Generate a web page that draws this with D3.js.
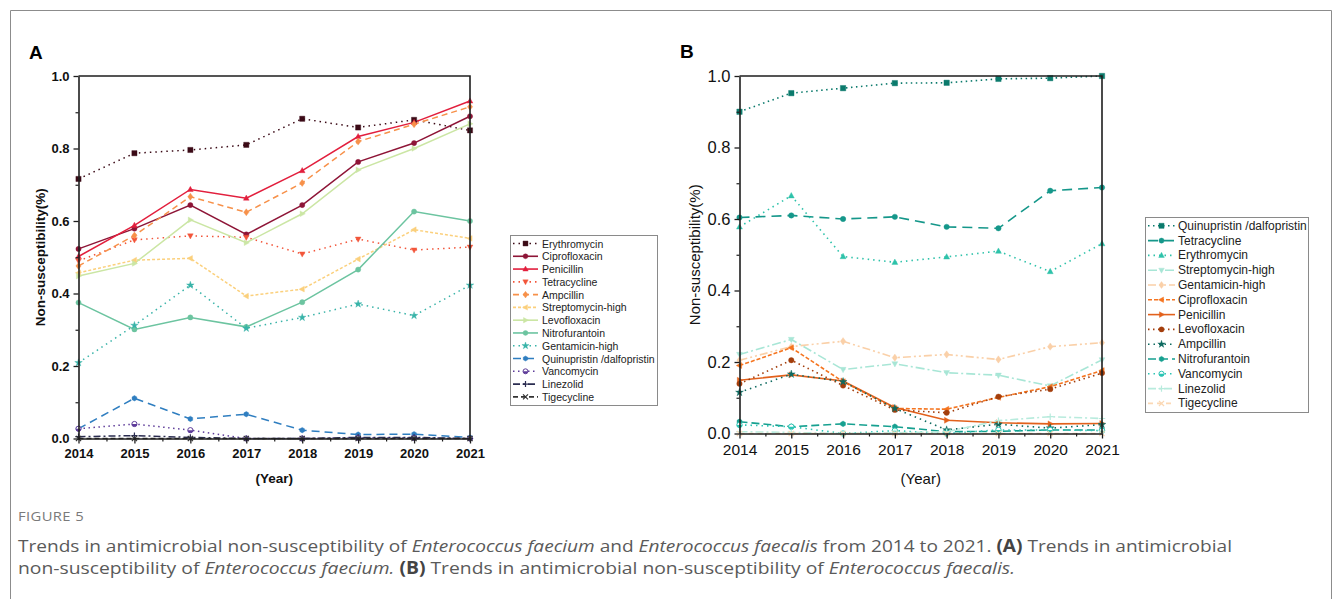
<!DOCTYPE html>
<html>
<head>
<meta charset="utf-8">
<script src="https://cdn.jsdelivr.net/npm/d3@7"></script>
<style>
  html, body { margin: 0; padding: 0; background: #fff; }
  svg { display: block; }
</style>
</head>
<body>
<svg id="fig" width="1336" height="599"></svg>
<script>
// ---- shared axes ----
const years = [2014, 2015, 2016, 2017, 2018, 2019, 2020, 2021];
const yTicks = [0, 0.2, 0.4, 0.6, 0.8, 1.0];
const yTickLabels = ["0.0", "0.2", "0.4", "0.6", "0.8", "1.0"];

// ---- Panel A: Enterococcus faecium ----
const faeciumNames = ["Erythromycin", "Ciprofloxacin", "Penicillin", "Tetracycline", "Ampcillin",
  "Streptomycin-high", "Levofloxacin", "Nitrofurantoin", "Gentamicin-high",
  "Quinupristin /dalfopristin", "Vancomycin", "Linezolid", "Tigecycline"];
const faeciumErythromycin   = [0.716, 0.787, 0.796, 0.810, 0.882, 0.858, 0.879, 0.850];
const faeciumCiprofloxacin  = [0.523, 0.579, 0.644, 0.563, 0.644, 0.763, 0.815, 0.889];
const faeciumPenicillin     = [0.502, 0.588, 0.687, 0.663, 0.739, 0.833, 0.872, 0.931];
const faeciumTetracycline   = [0.490, 0.548, 0.559, 0.555, 0.509, 0.550, 0.520, 0.528];
const faeciumAmpcillin      = [0.476, 0.560, 0.667, 0.624, 0.705, 0.819, 0.867, 0.915];
const faeciumStreptomycin   = [0.457, 0.492, 0.497, 0.393, 0.412, 0.495, 0.576, 0.552];
const faeciumLevofloxacin   = [0.448, 0.483, 0.603, 0.540, 0.620, 0.741, 0.800, 0.868];
const faeciumNitrofurantoin = [0.375, 0.301, 0.334, 0.308, 0.376, 0.466, 0.626, 0.600];
const faeciumGentamicin     = [0.209, 0.312, 0.423, 0.304, 0.334, 0.371, 0.339, 0.423];
const faeciumQuinupristin   = [0.027, 0.111, 0.054, 0.067, 0.023, 0.011, 0.012, 0.003];
const faeciumVancomycin     = [0.027, 0.040, 0.023, 0.000, 0.000, 0.002, 0.002, 0.000];
const faeciumLinezolid      = [0.005, 0.008, 0.003, 0.000, 0.000, 0.003, 0.003, 0.000];
const faeciumTigecycline    = [0.000, 0.000, 0.000, 0.000, 0.000, 0.000, 0.000, 0.000];

// ---- Panel B: Enterococcus faecalis ----
const faecalisNames = ["Quinupristin /dalfopristin", "Tetracycline", "Erythromycin", "Streptomycin-high",
  "Gentamicin-high", "Ciprofloxacin", "Penicillin", "Levofloxacin", "Ampcillin",
  "Nitrofurantoin", "Vancomycin", "Linezolid", "Tigecycline"];
const faecalisQuinupristin   = [0.900, 0.952, 0.966, 0.980, 0.981, 0.992, 0.994, 1.000];
const faecalisTetracycline   = [0.604, 0.610, 0.600, 0.606, 0.578, 0.574, 0.679, 0.688];
const faecalisErythromycin   = [0.578, 0.665, 0.495, 0.479, 0.494, 0.510, 0.453, 0.531];
const faecalisStreptomycin   = [0.221, 0.263, 0.179, 0.195, 0.170, 0.163, 0.133, 0.206];
const faecalisGentamicin     = [0.205, 0.243, 0.258, 0.212, 0.221, 0.207, 0.243, 0.254];
const faecalisCiprofloxacin  = [0.190, 0.240, 0.145, 0.070, 0.068, 0.101, 0.131, 0.176];
const faecalisPenicillin     = [0.149, 0.164, 0.147, 0.073, 0.037, 0.030, 0.027, 0.028];
const faecalisLevofloxacin   = [0.139, 0.205, 0.134, 0.066, 0.058, 0.103, 0.124, 0.169];
const faecalisAmpcillin      = [0.115, 0.166, 0.145, 0.070, 0.010, 0.026, 0.015, 0.025];
const faecalisNitrofurantoin = [0.033, 0.019, 0.027, 0.019, 0.005, 0.006, 0.010, 0.010];
const faecalisVancomycin     = [0.024, 0.019, 0.000, 0.008, 0.000, 0.010, 0.010, 0.008];
const faecalisLinezolid      = [0.005, 0.003, 0.000, 0.002, 0.005, 0.036, 0.047, 0.042];
const faecalisTigecycline    = [0.000, 0.000, 0.000, 0.000, 0.000, 0.000, 0.000, 0.000];

const faeciumValues = [faeciumErythromycin, faeciumCiprofloxacin, faeciumPenicillin, faeciumTetracycline,
  faeciumAmpcillin, faeciumStreptomycin, faeciumLevofloxacin, faeciumNitrofurantoin, faeciumGentamicin,
  faeciumQuinupristin, faeciumVancomycin, faeciumLinezolid, faeciumTigecycline];
const faecalisValues = [faecalisQuinupristin, faecalisTetracycline, faecalisErythromycin, faecalisStreptomycin,
  faecalisGentamicin, faecalisCiprofloxacin, faecalisPenicillin, faecalisLevofloxacin, faecalisAmpcillin,
  faecalisNitrofurantoin, faecalisVancomycin, faecalisLinezolid, faecalisTigecycline];

// line/marker styling, one entry per series
const faeciumStyles = [
  { color: "#3b0a16", dash: "1.5,4",    shape: "square" },
  { color: "#8e1537", dash: null,       shape: "circle" },
  { color: "#e21f3d", dash: null,       shape: "triUp" },
  { color: "#f2553a", dash: "1.5,4",    shape: "triDown" },
  { color: "#f7914a", dash: "6,4",      shape: "diamond" },
  { color: "#fbd07c", dash: "3,2",      shape: "triLeft" },
  { color: "#cbe6a4", dash: null,       shape: "triRight" },
  { color: "#6cc4a0", dash: null,       shape: "circle" },
  { color: "#38b3a8", dash: "1.5,4",    shape: "star" },
  { color: "#2f7ec0", dash: "8,5",      shape: "pentagon" },
  { color: "#5e3c99", dash: "1.5,3.5",  shape: "half" },
  { color: "#2a2c50", dash: "7,3,2,3",  shape: "plus" },
  { color: "#333333", dash: "5,3",      shape: "cross" }
];
const faecalisStyles = [
  { color: "#0b7a6c", dash: "1.5,3.5",  shape: "square" },
  { color: "#15978a", dash: "10,6",     shape: "circle" },
  { color: "#2ec2aa", dash: "1.5,4",    shape: "triUp" },
  { color: "#a8e6d6", dash: "9,3,2,3",  shape: "triDown" },
  { color: "#fad0a8", dash: "8,3,2,3,2,3", shape: "diamond" },
  { color: "#f57520", dash: "4,2",      shape: "triLeft" },
  { color: "#e2611c", dash: null,       shape: "triRight" },
  { color: "#a33e0c", dash: "1.5,3.5",  shape: "circle" },
  { color: "#0e6a60", dash: "1.5,4",    shape: "star" },
  { color: "#16a090", dash: "8,4",      shape: "pentagon" },
  { color: "#2cc4b4", dash: "1.5,4",    shape: "half" },
  { color: "#b8ebdd", dash: "8,3,2,3",  shape: "plus" },
  { color: "#fbd8b4", dash: "5,4",      shape: "cross" }
];

// ---- marker shapes ----
function markerPath(shape, r) {
  switch (shape) {
    case "square": return `M${-r},${-r}h${2 * r}v${2 * r}h${-2 * r}Z`;
    case "circle": case "half": return d3.symbol(d3.symbolCircle, Math.PI * r * r)();
    case "triUp": return `M0,${-1.2 * r}L${1.1 * r},${0.8 * r}L${-1.1 * r},${0.8 * r}Z`;
    case "triDown": return `M0,${1.2 * r}L${1.1 * r},${-0.8 * r}L${-1.1 * r},${-0.8 * r}Z`;
    case "triLeft": return `M${-1.2 * r},0L${0.8 * r},${-1.1 * r}L${0.8 * r},${1.1 * r}Z`;
    case "triRight": return `M${1.2 * r},0L${-0.8 * r},${-1.1 * r}L${-0.8 * r},${1.1 * r}Z`;
    case "diamond": return `M0,${-1.35 * r}L${r},0L0,${1.35 * r}L${-r},0Z`;
    case "star": return d3.symbol(d3.symbolStar, 2.6 * r * r)();
    case "pentagon": {
      const pts = d3.range(6).map(i => {
        const a = -Math.PI / 2 + i * Math.PI / 3;
        return [r * 1.05 * Math.cos(a), r * 1.05 * Math.sin(a)];
      });
      return "M" + pts.map(p => p.join(",")).join("L") + "Z";
    }
    case "plus": return `M${-r * 1.2},0H${r * 1.2}M0,${-r * 1.2}V${r * 1.2}`;
    case "cross": return `M${-r},${-r}L${r},${r}M${-r},${r}L${r},${-r}`;
  }
}

function drawMarker(g, shape, color, x, y, r) {
  const stroked = shape === "plus" || shape === "cross";
  g.append("path")
    .attr("transform", `translate(${x},${y})`)
    .attr("d", markerPath(shape, r))
    .attr("fill", stroked ? "none" : (shape === "half" ? "#ffffff" : color))
    .attr("stroke", color)
    .attr("stroke-width", stroked ? 1.2 : (shape === "half" ? 1 : 0.4));
  if (shape === "half") {
    g.append("path")
      .attr("transform", `translate(${x},${y})`)
      .attr("d", `M${-r},0A${r},${r} 0 0 0 ${r},0Z`)
      .attr("fill", color);
  }
}

const svg = d3.select("#fig");
const font = "'Liberation Sans', Arial, sans-serif";

// outer frame of the figure
svg.append("path")
  .attr("d", "M10.5,610V10.5H1331.5V610")
  .attr("fill", "none").attr("stroke", "#8c8c8c").attr("stroke-width", 1);

function drawPanel(opt) {
  const { names, values, styles, left, right, top, bottom, bold, tickSizeX, tickSizeY,
    labelSize, letter, letterX, letterY, yLabelX, legend } = opt;
  const g = svg.append("g");
  const x = d3.scaleLinear().domain([2014, 2021]).range([left, right]);
  const y = d3.scaleLinear().domain([0, 1]).range([bottom, top]);
  const weight = bold ? "bold" : "normal";

  // series lines and markers
  const line = d3.line().x((d, i) => x(years[i])).y(d => y(d));
  values.forEach((vals, k) => {
    const st = styles[k];
    g.append("path")
      .attr("d", line(vals))
      .attr("fill", "none")
      .attr("stroke", st.color)
      .attr("stroke-width", opt.lineWidth)
      .attr("stroke-dasharray", st.dash);
  });
  values.forEach((vals, k) => {
    const st = styles[k];
    vals.forEach((v, i) => drawMarker(g, st.shape, st.color, x(years[i]), y(v), opt.markerR));
  });

  // axes
  const axisStyle = sel => {
    sel.select(".domain").attr("stroke", "#1e1e1e").attr("stroke-width", 1.6);
    sel.selectAll(".tick line").attr("stroke", "#1e1e1e").attr("stroke-width", 1.3);
    sel.selectAll(".tick text").attr("font-family", font).attr("font-weight", weight).attr("fill", "#111");
  };
  const xAxis = g.append("g").attr("transform", `translate(0,${bottom})`)
    .call(d3.axisBottom(x).tickValues(years).tickFormat(d3.format("d")).tickSize(5).tickSizeOuter(0).tickPadding(5));
  axisStyle(xAxis);
  xAxis.selectAll(".tick text").attr("font-size", tickSizeX);
  const yAxis = g.append("g").attr("transform", `translate(${left},0)`)
    .call(d3.axisLeft(y).tickValues(yTicks).tickFormat((d, i) => yTickLabels[i]).tickSize(5).tickSizeOuter(0).tickPadding(4));
  axisStyle(yAxis);
  yAxis.selectAll(".tick text").attr("font-size", tickSizeY);

  // minor ticks
  g.append("g").attr("transform", `translate(0,${bottom})`)
    .call(d3.axisBottom(x).tickValues(d3.range(2014.5, 2021, 1)).tickFormat("").tickSize(3).tickSizeOuter(0))
    .call(s => { s.select(".domain").remove(); s.selectAll("line").attr("stroke", "#1e1e1e").attr("stroke-width", 1.2); });
  g.append("g").attr("transform", `translate(${left},0)`)
    .call(d3.axisLeft(y).tickValues([0.1, 0.3, 0.5, 0.7, 0.9]).tickFormat("").tickSize(3).tickSizeOuter(0))
    .call(s => { s.select(".domain").remove(); s.selectAll("line").attr("stroke", "#1e1e1e").attr("stroke-width", 1.2); });

  // frame (top and right)
  g.append("path")
    .attr("d", `M${left},${top}H${right}V${bottom}`)
    .attr("fill", "none").attr("stroke", "#1e1e1e").attr("stroke-width", 1.6);

  // axis titles
  g.append("text")
    .attr("transform", `translate(${yLabelX},${(top + bottom) / 2}) rotate(-90)`)
    .attr("text-anchor", "middle").attr("dominant-baseline", "central")
    .attr("font-family", font).attr("font-weight", weight).attr("font-size", labelSize)
    .attr("fill", "#111").text("Non-susceptibility(%)");
  g.append("text")
    .attr("x", (left + right) / 2).attr("y", 478)
    .attr("text-anchor", "middle").attr("dominant-baseline", "central")
    .attr("font-family", font).attr("font-weight", weight).attr("font-size", labelSize)
    .attr("fill", "#111").text("(Year)");

  // panel letter
  g.append("text").attr("x", letterX).attr("y", letterY)
    .attr("font-family", font).attr("font-weight", "bold").attr("font-size", 19)
    .attr("fill", "#000").text(letter);

  // legend
  const L = legend;
  const lg = svg.append("g");
  lg.append("rect")
    .attr("x", L.x + 0.5).attr("y", L.y + 0.5).attr("width", L.w).attr("height", L.h)
    .attr("fill", "#fff").attr("stroke", "#8a8a8a").attr("stroke-width", 1);
  names.forEach((name, k) => {
    const st = styles[k];
    const yy = L.firstY + k * L.step;
    lg.append("line")
      .attr("x1", L.x + 3).attr("x2", L.x + 3 + L.sample).attr("y1", yy).attr("y2", yy)
      .attr("stroke", st.color).attr("stroke-width", 1.6).attr("stroke-dasharray", st.dash);
    drawMarker(lg, st.shape, st.color, L.x + 3 + L.sample / 2, yy, opt.markerR * 0.95);
    lg.append("text")
      .attr("x", L.textX).attr("y", yy).attr("dominant-baseline", "central")
      .attr("font-family", font).attr("font-size", L.font).attr("fill", "#222").text(name);
  });
}

drawPanel({
  names: faeciumNames, values: faeciumValues, styles: faeciumStyles,
  left: 78.5, right: 470, top: 76, bottom: 438.5,
  bold: true, tickSizeX: 13, tickSizeY: 13, labelSize: 13.5,
  letter: "A", letterX: 29, letterY: 59, yLabelX: 40,
  lineWidth: 1.5, markerR: 2.6,
  legend: { x: 510, y: 235, w: 147, h: 170, firstY: 243.5, step: 12.78, sample: 25, textX: 542, font: 10.5 }
});

drawPanel({
  names: faecalisNames, values: faecalisValues, styles: faecalisStyles,
  left: 739.5, right: 1102, top: 76, bottom: 433.5,
  bold: false, tickSizeX: 15.5, tickSizeY: 16.5, labelSize: 15,
  letter: "B", letterX: 680, letterY: 58, yLabelX: 694,
  lineWidth: 1.6, markerR: 2.7,
  legend: { x: 1145, y: 217, w: 163, h: 195, firstY: 225.8, step: 14.8, sample: 27, textX: 1178, font: 12 }
});

// ---- caption ----
const cap = svg.append("g").attr("font-family", "'Open Sans', 'Liberation Sans', sans-serif");
cap.append("text").attr("x", 18).attr("y", 521)
  .attr("font-size", 12).attr("fill", "#7a7a7a").attr("letter-spacing", 0.3)
  .attr("textLength", 66).attr("lengthAdjust", "spacingAndGlyphs").text("FIGURE 5");

function captionLine(yPos, width, parts) {
  const t = cap.append("text").attr("x", 18).attr("y", yPos)
    .attr("font-size", 17).attr("fill", "#5a5a5a")
    .attr("textLength", width).attr("lengthAdjust", "spacingAndGlyphs");
  parts.forEach(p => {
    t.append("tspan")
      .attr("font-style", p.i ? "italic" : null)
      .attr("font-weight", p.b ? "bold" : null)
      .attr("fill", p.b ? "#444" : null)
      .text(p.t);
  });
}
captionLine(552, 1214, [
  { t: "Trends in antimicrobial non-susceptibility of " },
  { t: "Enterococcus faecium", i: true },
  { t: " and " },
  { t: "Enterococcus faecalis", i: true },
  { t: " from 2014 to 2021. " },
  { t: "(A)", b: true },
  { t: " Trends in antimicrobial" }
]);
captionLine(574, 997, [
  { t: "non-susceptibility of " },
  { t: "Enterococcus faecium.", i: true },
  { t: " " },
  { t: "(B)", b: true },
  { t: " Trends in antimicrobial non-susceptibility of " },
  { t: "Enterococcus faecalis.", i: true }
]);
</script>
</body>
</html>
